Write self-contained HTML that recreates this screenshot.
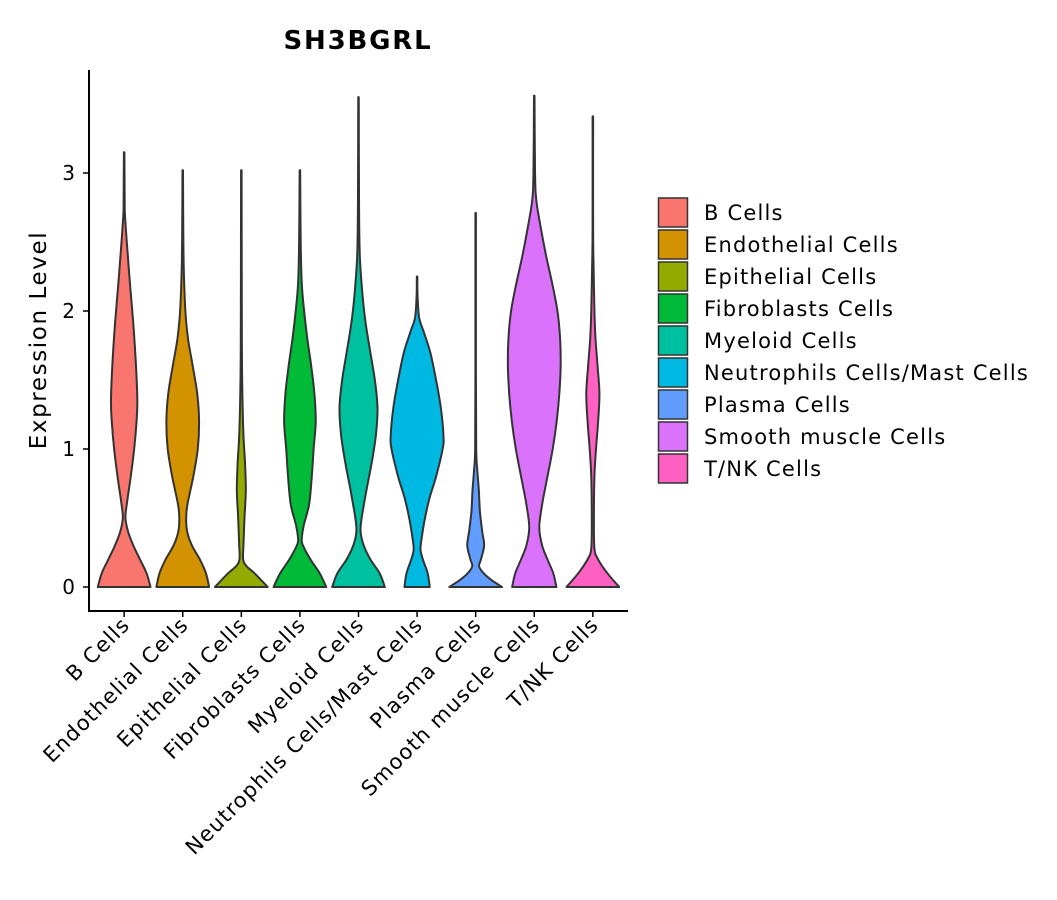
<!DOCTYPE html>
<html><head><meta charset="utf-8"><style>
html,body{margin:0;padding:0;background:#fff;}
svg{display:block;font-family:"DejaVu Sans","Liberation Sans",sans-serif;}
</style></head><body>
<svg id="chart" width="1057" height="900" viewBox="0 0 1057 900" xmlns="http://www.w3.org/2000/svg">
<text x="358" y="49" text-anchor="middle" font-size="26" font-weight="bold" letter-spacing="1.8" fill="#000">SH3BGRL</text>
<text transform="translate(46,340) rotate(-90)" text-anchor="middle" font-size="23" letter-spacing="1.6" fill="#000">Expression Level</text>
<g id="plot"></g>
<g id="legend"></g>
</svg>
<script>
const categories = ["B Cells","Endothelial Cells","Epithelial Cells","Fibroblasts Cells","Myeloid Cells","Neutrophils Cells/Mast Cells","Plasma Cells","Smooth muscle Cells","T/NK Cells"];
const colors = ["#F8766D","#D39200","#93AA00","#00BA38","#00C19F","#00B9E3","#619CFF","#DB72FB","#FF61C3"];
const yTicks = [0,1,2,3];
// density profiles: expression levels and relative half-widths
const levB = [0,.1,.2,.3,.4,.5,.6,.8,1.0,1.2,1.35,1.6,1.9,2.2,2.5,2.7,2.8,3.15];
const denB = [1,.85,.6,.35,.15,.05,.1,.25,.38,.47,.5,.45,.35,.22,.1,.03,.02,.01];
const levEndo = [0,.1,.2,.3,.4,.5,.6,.8,1.0,1.2,1.4,1.6,1.8,2.0,2.3,2.6,3.02];
const denEndo = [1,.88,.65,.35,.17,.13,.18,.4,.57,.62,.55,.38,.2,.1,.04,.02,.01];
const levEpi = [0,.1,.15,.2,.3,.5,.7,.9,1.1,1.4,1.8,3.02];
const denEpi = [1,.5,.2,.07,.08,.12,.17,.14,.08,.04,.02,.01];
const levFib = [0,.1,.2,.3,.35,.45,.6,.8,1.0,1.2,1.4,1.6,1.8,2.0,2.2,2.5,3.02];
const denFib = [1,.75,.4,.12,.07,.15,.35,.45,.52,.6,.55,.43,.28,.16,.07,.03,.01];
const levMye = [0,.1,.2,.3,.4,.5,.7,.9,1.1,1.3,1.5,1.7,1.9,2.1,2.4,2.8,3.55];
const denMye = [1,.8,.45,.2,.08,.12,.3,.5,.66,.72,.62,.45,.28,.16,.05,.02,.01];
const levNeu = [0,.1,.2,.27,.35,.5,.65,.8,1.0,1.1,1.3,1.5,1.7,1.85,1.95,2.1,2.25];
const denNeu = [.48,.4,.22,.13,.17,.3,.48,.72,.97,1.0,.9,.72,.5,.25,.08,.02,.01];
const levPla = [0,.05,.1,.15,.2,.3,.4,.55,.7,.85,1.0,1.5,2.71];
const denPla = [1,.6,.3,.13,.2,.32,.25,.16,.12,.06,.02,.01,.01];
const levSmo = [0,.1,.2,.3,.43,.6,.8,1.0,1.2,1.4,1.6,1.8,2.0,2.2,2.4,2.6,2.8,3.0,3.56];
const denSmo = [.84,.72,.5,.3,.19,.3,.5,.7,.85,.95,1.0,.98,.88,.68,.45,.25,.08,.03,.01];
const levTNK = [0,.1,.2,.28,.5,.8,1.0,1.2,1.4,1.6,1.8,2.0,2.3,2.6,3.41];
const denTNK = [1,.55,.2,.06,.04,.06,.12,.2,.25,.18,.1,.06,.03,.01,.01];
const levels = [levB,levEndo,levEpi,levFib,levMye,levNeu,levPla,levSmo,levTNK];
const densities = [denB,denEndo,denEpi,denFib,denMye,denNeu,denPla,denSmo,denTNK];

const NS = "http://www.w3.org/2000/svg";
const plot = document.getElementById('plot');
const legend = document.getElementById('legend');
const X0 = 89, X1 = 628, Y0 = 611, YTOP = 70;
const step = (X1 - X0) / (categories.length + 0.2);
function xScale(i){ return X0 + (0.6 + i) * step; }
function yScale(v){ return 587 - v * 138; }
const halfMax = 0.45 * step;

function mk(tag, attrs){ const e = document.createElementNS(NS, tag); for (const k in attrs) e.setAttribute(k, attrs[k]); return e; }

function curve(pts){
  let d = "";
  for (let i = 0; i < pts.length - 1; i++){
    const p0 = pts[Math.max(i-1,0)], p1 = pts[i], p2 = pts[i+1], p3 = pts[Math.min(i+2, pts.length-1)];
    const c1 = [p1[0] + (p2[0]-p0[0])/6, p1[1] + (p2[1]-p0[1])/6];
    const c2 = [p2[0] - (p3[0]-p1[0])/6, p2[1] - (p3[1]-p1[1])/6];
    d += ` C${c1[0].toFixed(2)},${c1[1].toFixed(2)} ${c2[0].toFixed(2)},${c2[1].toFixed(2)} ${p2[0].toFixed(2)},${p2[1].toFixed(2)}`;
  }
  return d;
}

categories.forEach((c, i) => {
  const cx = xScale(i), lv = levels[i], dn = densities[i];
  const right = lv.map((v, k) => [cx + dn[k] * halfMax, yScale(v)]);
  const left = lv.map((v, k) => [cx - dn[k] * halfMax, yScale(v)]).reverse();
  let d = `M${right[0][0]},${right[0][1]}` + curve(right) + ` L${left[0][0]},${left[0][1]}` + curve(left) + " Z";
  const p = mk('path', {d: d, fill: colors[i], stroke: '#333', 'stroke-width': 2, 'stroke-linejoin': 'round'});
  
  
  plot.appendChild(p);
  const t = mk('line', {x1: cx, x2: cx, y1: Y0, y2: Y0 + 6, stroke: '#000', 'stroke-width': 1.5});
  
  
  plot.appendChild(t);
  const lbl = mk('text', {transform: `translate(${cx + 7},${Y0 + 15}) rotate(-45)`, 'text-anchor': 'end', 'font-size': 21, 'letter-spacing': 1.2, fill: '#000'});
  lbl.textContent = c;
  
  
  plot.appendChild(lbl);
  const ly = 198 + i * 32;
  const key = mk('rect', {x: 658.5, y: ly, width: 29, height: 29, fill: colors[i], stroke: '#333', 'stroke-width': 1.5});
  
  
  legend.appendChild(key);
  const lt = mk('text', {x: 704, y: ly + 22, 'font-size': 21, 'letter-spacing': 1.2, fill: '#000'});
  lt.textContent = c;
  
  
  legend.appendChild(lt);
});

yTicks.forEach(v => {
  const y = yScale(v);
  const t = mk('line', {x1: X0 - 6, x2: X0, y1: y, y2: y, stroke: '#000', 'stroke-width': 1.5});
  
  
  plot.appendChild(t);
  const l = mk('text', {x: X0 - 14, y: y + 7, 'text-anchor': 'end', 'font-size': 20, fill: '#000'});
  l.textContent = v;
  
  
  plot.appendChild(l);
});

const ax = mk('line', {x1: X0, x2: X0, y1: YTOP, y2: Y0, stroke: '#000', 'stroke-width': 2});


plot.appendChild(ax);
const bx = mk('line', {x1: X0 - 1, x2: X1, y1: Y0, y2: Y0, stroke: '#000', 'stroke-width': 2});


plot.appendChild(bx);
</script>
</body></html>
